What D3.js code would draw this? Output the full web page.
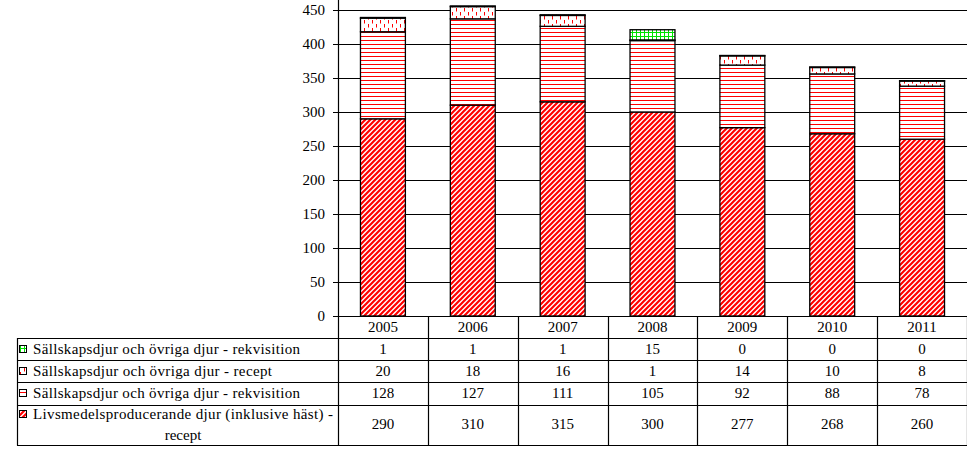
<!DOCTYPE html>
<html><head><meta charset="utf-8">
<script src="https://cdn.jsdelivr.net/npm/d3@7"></script>
<style>body{margin:0;background:#fff}svg{display:block}</style>
</head><body><svg id="c" width="967" height="454" font-family="'Liberation Serif', 'Times New Roman', 'DejaVu Serif', serif"></svg>
<script>
const years = ["2005","2006","2007","2008","2009","2010","2011"];
const seriesNames = [
  "Sällskapsdjur och övriga djur - rekvisition",
  "Sällskapsdjur och övriga djur - recept",
  "Sällskapsdjur och övriga djur - rekvisition",
  "Livsmedelsproducerande djur (inklusive häst) - recept"
];
const petRekvisitionTop = [1,1,1,15,0,0,0];
const petRecept = [20,18,16,1,14,10,8];
const petRekvisition = [128,127,111,105,92,88,78];
const foodRecept = [290,310,315,300,277,268,260];
const yTicks = [0,50,100,150,200,250,300,350,400,450];

const FS = 15;
const svg = d3.select("#c");
const defs = svg.append("defs");
const pDiag = defs.append("pattern").attr("id","pDiag").attr("patternUnits","userSpaceOnUse").attr("width",5).attr("height",5);
pDiag.append("rect").attr("width",5).attr("height",5).attr("fill","#fff");
pDiag.append("path").attr("d","M-1,6 L6,-1 M-1,1 L1,-1 M4,6 L6,4").attr("stroke","#ff0000").attr("stroke-width",2.2);
const pH = defs.append("pattern").attr("id","pH").attr("patternUnits","userSpaceOnUse").attr("width",4).attr("height",4);
pH.append("rect").attr("width",4).attr("height",4).attr("fill","#fff");
pH.append("rect").attr("y",0).attr("width",4).attr("height",1).attr("fill","#ff0000");
const pDot = defs.append("pattern").attr("id","pDot").attr("patternUnits","userSpaceOnUse").attr("width",8).attr("height",8);
pDot.append("rect").attr("width",8).attr("height",8).attr("fill","#fff");
pDot.append("rect").attr("x",0).attr("y",0).attr("width",1).attr("height",3.5).attr("fill","#ff0000");
pDot.append("rect").attr("x",4).attr("y",4).attr("width",1).attr("height",3.5).attr("fill","#ff0000");
const pGrid = defs.append("pattern").attr("id","pGrid").attr("patternUnits","userSpaceOnUse").attr("width",4).attr("height",4);
pGrid.append("rect").attr("width",4).attr("height",4).attr("fill","#fff");
pGrid.append("path").attr("d","M0,0.5 H4 M0.5,0 V4").attr("stroke","#00e000").attr("stroke-width",1);

const legPats = ["url(#pGrid)","url(#pDot)","url(#pH)","url(#pDiag)"];

const left = 338, right = 967, top0 = 10, bottom = 316;
const x = d3.scaleBand().domain(years).range([left,right]).paddingInner(0.5).paddingOuter(0.25);
const xCat = d3.scaleBand().domain(years).range([left,right]);
const y = d3.scaleLinear().domain([0,450]).range([bottom,top0]);

svg.append("g").selectAll("line").data(yTicks.slice(1)).join("line")
  .attr("x1",left).attr("x2",right).attr("y1",d=>Math.round(y(d))+0.5).attr("y2",d=>Math.round(y(d))+0.5)
  .attr("stroke","#000").attr("stroke-width",1);

const rows = years.map((yr,i)=>({year:yr, food:foodRecept[i], petRek:petRekvisition[i], petRec:petRecept[i], petRekTop:petRekvisitionTop[i]}));
const keys = ["food","petRek","petRec","petRekTop"];
const fills = ["url(#pDiag)","url(#pH)","url(#pDot)","url(#pGrid)"];
const stack = d3.stack().keys(keys)(rows);
stack.forEach((layer,li)=>{
  svg.append("g").selectAll("rect").data(layer).join("rect")
    .attr("x",d=>x(d.data.year)).attr("width",x.bandwidth())
    .attr("y",d=>y(d[1])).attr("height",d=>Math.max(y(d[0])-y(d[1]),0.5))
    .attr("fill",fills[li]).attr("stroke","#000").attr("stroke-width",1.3);
});

svg.append("line").attr("x1",left+0.5).attr("x2",left+0.5).attr("y1",0).attr("y2",445).attr("stroke","#000").attr("stroke-width",1.2);
const ya = svg.append("g");
ya.selectAll("line").data(yTicks).join("line")
  .attr("x1",left-5).attr("x2",left).attr("y1",d=>Math.round(y(d))+0.5).attr("y2",d=>Math.round(y(d))+0.5).attr("stroke","#000");
ya.selectAll("text").data(yTicks).join("text")
  .attr("x",left-13).attr("y",d=>y(d)+5).attr("text-anchor","end").attr("font-size",FS).text(d=>d);

const tbl = svg.append("g");
const tableLeft = 17;
const lineS = (x1,y1,x2,y2)=>tbl.append("line").attr("x1",x1).attr("y1",y1).attr("x2",x2).attr("y2",y2).attr("stroke","#000").attr("stroke-width",1.2);
lineS(left, 316.5, right, 316.5);
[338,360,382,405,445].forEach(v=>lineS(tableLeft, v+0.5, right, v+0.5));
lineS(tableLeft+0.5, 338, tableLeft+0.5, 445.5);
years.forEach((yr,i)=>{ const xv = xCat(yr)+xCat.bandwidth(); lineS(Math.round(xv)+0.5, 316, Math.round(xv)+0.5, 445.5); });
tbl.selectAll("text.yr").data(years).join("text").attr("class","yr")
  .attr("x",d=>xCat(d)+xCat.bandwidth()/2).attr("y",332).attr("text-anchor","middle").attr("font-size",FS).text(d=>d);
const tableData = [petRekvisitionTop, petRecept, petRekvisition, foodRecept];
const textY = [354,376,398,429];
tableData.forEach((arr,ri)=>{
  tbl.append("g").selectAll("text").data(arr).join("text")
    .attr("x",(d,i)=>xCat(years[i])+xCat.bandwidth()/2).attr("y",textY[ri]).attr("text-anchor","middle").attr("font-size",FS).text(d=>d);
  const sy = ri<3 ? textY[ri]-9 : 410;
  tbl.append("rect").attr("x",19.5).attr("y",sy+0.5).attr("width",7).attr("height",7)
    .attr("fill",legPats[ri]).attr("stroke","#000").attr("stroke-width",1);
});
const labelLens = [267, 239, 267];
[0,1,2].forEach(ri=>tbl.append("text").attr("x",33).attr("y",textY[ri]).attr("font-size",FS)
  .attr("textLength",labelLens[ri]).attr("lengthAdjust","spacing").text(seriesNames[ri]));
tbl.append("text").attr("x",33).attr("y",419).attr("font-size",FS)
  .attr("textLength",300).attr("lengthAdjust","spacing").text("Livsmedelsproducerande djur (inklusive häst) -");
tbl.append("text").attr("x",183).attr("y",440).attr("text-anchor","middle").attr("font-size",FS).text("recept");
</script></body></html>
